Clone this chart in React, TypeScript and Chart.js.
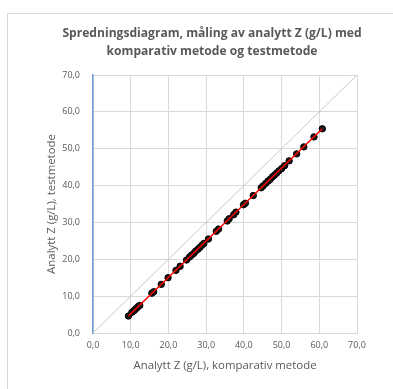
import React, { useEffect, useRef } from "react";
import { Chart, registerables } from "chart.js";

Chart.register(...registerables);

const chartTitle = ["Spredningsdiagram, måling av analytt Z (g/L) med", "komparativ metode og testmetode"];
const xAxisTitle = "Analytt Z (g/L), komparativ metode";
const yAxisTitle = "Analytt Z (g/L), testmetode";

const comparativeValues = [
  9.4, 10.3, 10.8, 11.2, 11.6, 12.0, 12.4, 15.6, 16.1, 18.1, 19.9, 22.0, 23.1, 24.8,
  25.6, 26.1, 26.7, 27.2, 27.8, 28.3, 28.9, 29.4, 30.6, 32.7, 33.3, 35.6, 36.1, 37.3,
  37.9, 39.9, 40.4, 42.5, 44.6, 45.1, 45.8, 46.4, 47.0, 47.6, 48.1, 48.7, 49.3, 50.0,
  50.8, 52.0, 54.0, 55.9, 58.6, 60.8,
];
const testValues = [
  4.6, 5.6, 6.0, 6.4, 6.8, 7.2, 7.5, 10.8, 11.2, 13.2, 15.0, 17.0, 18.1, 19.8,
  20.6, 21.1, 21.6, 22.2, 22.7, 23.2, 23.8, 24.3, 25.5, 27.6, 28.2, 30.4, 31.0, 32.1,
  32.8, 34.8, 35.2, 37.3, 39.4, 39.9, 40.6, 41.2, 41.7, 42.4, 42.8, 43.4, 44.0, 44.6,
  45.4, 46.7, 48.6, 50.5, 53.2, 55.4,
];
const trendX = [9.4, 60.8];
const trendY = [4.6, 55.4];
const identityX = [0, 70];
const identityY = [0, 70];
const axisMin = 0;
const axisMax = 70;
const axisStep = 10;

const fmt = (v: number | string) => Number(v).toFixed(1).replace(".", ",");
const FONT = "'Open Sans', 'DejaVu Sans', sans-serif";

const titlePlugin = {
  id: "centeredTitle",
  afterDraw(chart: any) {
    const ctx = chart.ctx;
    ctx.save();
    ctx.font = `bold 12.1px ${FONT}`;
    ctx.fillStyle = "#595959";
    ctx.textAlign = "center";
    ctx.textBaseline = "middle";
    ctx.fillText(chartTitle[0], 204, 19.5);
    ctx.fillText(chartTitle[1], 204, 37.5);
    ctx.restore();
  },
};

export default function App() {
  const ref = useRef<HTMLCanvasElement | null>(null);
  useEffect(() => {
    if (!ref.current) return;
    const chart = new Chart(ref.current, {
      type: "scatter",
      data: {
        datasets: [
          {
            label: "trend",
            data: trendX.map((x, i) => ({ x, y: trendY[i] })),
            showLine: true,
            borderColor: "#ff0000",
            borderWidth: 1.5,
            pointRadius: 0,
            order: 0,
          },
          {
            label: "data",
            data: comparativeValues.map((x, i) => ({ x, y: testValues[i] })),
            backgroundColor: "#1a1a1a",
            borderColor: "#000000",
            borderWidth: 1,
            pointRadius: 3.2,
            order: 1,
          },
          {
            label: "identity",
            data: identityX.map((x, i) => ({ x, y: identityY[i] })),
            showLine: true,
            borderColor: "#c8c8c8",
            borderWidth: 1,
            pointRadius: 0,
            order: 2,
          },
        ],
      },
      options: {
        animation: false,
        responsive: false,
        layout: { padding: { left: 30, right: 59, top: 61, bottom: 6 } },
        plugins: {
          legend: { display: false },
          tooltip: { enabled: false },
          title: { display: false },
        },
        scales: {
          x: {
            type: "linear",
            min: axisMin,
            max: axisMax,
            afterFit: (s: any) => { s.height = 50; },
            ticks: { stepSize: axisStep, callback: (v: any) => fmt(v), color: "#595959", font: { family: FONT, size: 9 }, padding: 7, maxRotation: 0 },
            grid: { color: "#d9d9d9", drawTicks: false },
            border: { color: "#d9d9d9", width: 1 },
            title: { display: true, text: xAxisTitle, color: "#595959", font: { family: FONT, size: 11.4 }, padding: { top: 0, bottom: 10 } },
          },
          y: {
            type: "linear",
            min: axisMin,
            max: axisMax,
            afterFit: (s: any) => { s.width = 55; },
            ticks: { stepSize: axisStep, callback: (v: any) => fmt(v), color: "#595959", font: { family: FONT, size: 9 }, padding: 13 },
            grid: { color: "#d9d9d9", drawTicks: false },
            border: { color: "#6f9bd8", width: 1.5 },
            title: { display: true, text: yAxisTitle, color: "#595959", font: { family: FONT, size: 11.4 }, padding: { top: 7, bottom: 0 } },
          },
        },
      },
      plugins: [titlePlugin],
    });
    return () => chart.destroy();
  }, []);
  return (
    <div
      style={{
        position: "absolute",
        left: 7,
        top: 13,
        width: 386,
        height: 376,
        borderLeft: "1px solid #d9d9d9",
        borderTop: "1px solid #d9d9d9",
        overflow: "hidden",
        background: "#fff",
      }}
    >
      <canvas ref={ref} width={408} height={375} style={{ display: "block", width: 408, height: 375 }} />
    </div>
  );
}
